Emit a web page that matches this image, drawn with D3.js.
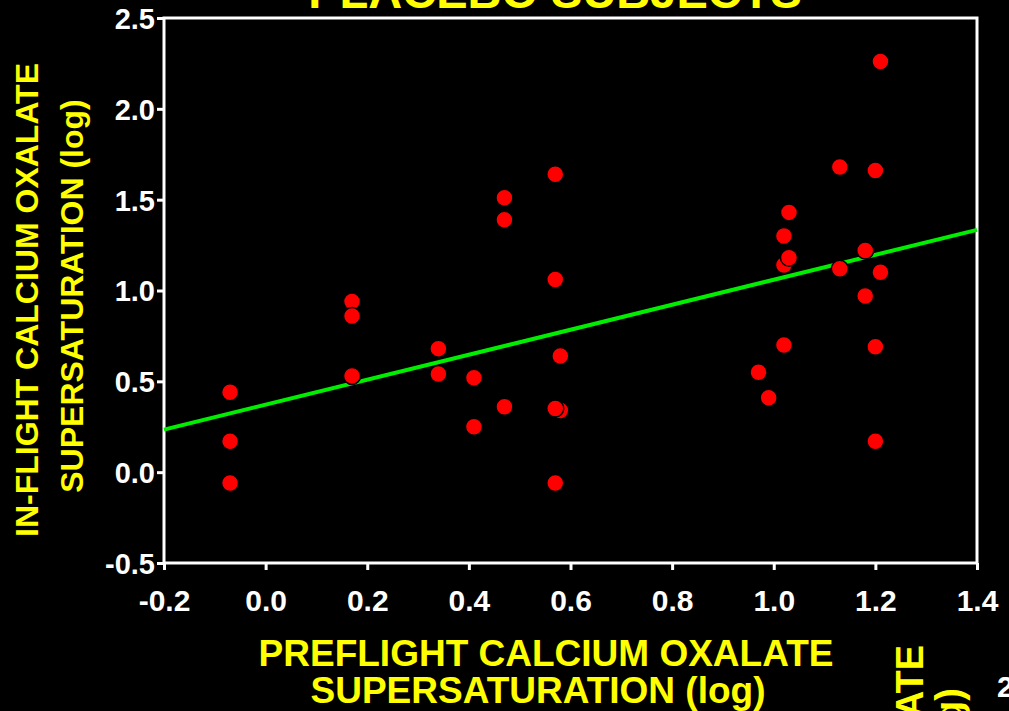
<!DOCTYPE html>
<html>
<head>
<meta charset="utf-8">
<script src="https://cdn.jsdelivr.net/npm/d3@7"></script>
<style>
  html, body { margin: 0; padding: 0; background: #000; }
  svg { display: block; }
  text { font-family: "Liberation Sans", Arial, sans-serif; font-weight: bold; }
</style>
</head>
<body>
<div id="chart"></div>
<script>
// preflight (x) vs in-flight (y) calcium oxalate supersaturation, log
var preflight = [-0.07, -0.07, -0.07, 0.17, 0.17, 0.17, 0.34, 0.34, 0.41, 0.41,
                 0.47, 0.47, 0.47, 0.57, 0.57, 0.58, 0.58, 0.57, 0.57,
                 0.97, 0.99, 1.02, 1.02, 1.02, 1.03, 1.03, 1.13, 1.13,
                 1.18, 1.18, 1.20, 1.20, 1.20, 1.21, 1.21];
var inflight  = [0.44, 0.17, -0.06, 0.94, 0.86, 0.53, 0.68, 0.54, 0.52, 0.25,
                 1.51, 1.39, 0.36, 1.64, 1.06, 0.64, 0.34, 0.35, -0.06,
                 0.55, 0.41, 0.70, 1.30, 1.14, 1.43, 1.18, 1.68, 1.12,
                 1.22, 0.97, 1.66, 0.69, 0.17, 2.26, 1.10];

// regression line end points
var fitX = [-0.2, 1.4];
var fitY = [0.234, 1.334];

var xTicks = [-0.2, 0.0, 0.2, 0.4, 0.6, 0.8, 1.0, 1.2, 1.4];
var yTicks = [-0.5, 0.0, 0.5, 1.0, 1.5, 2.0, 2.5];

var W = 1009, H = 711;
var margin = {top: 18, right: 32, bottom: 148, left: 164};
var width = W - margin.left - margin.right,
    height = H - margin.top - margin.bottom;

var svg = d3.select("#chart")
  .append("svg")
    .attr("width", W)
    .attr("height", H)
    .style("background", "#000");

var g = svg.append("g")
    .attr("transform", "translate(" + margin.left + "," + margin.top + ")");

var x = d3.scaleLinear().domain([-0.2, 1.4]).range([0, width]);
var y = d3.scaleLinear().domain([-0.5, 2.5]).range([height, 0]);

// plain hyphen for negatives, like the original slide
var fmt = function(d) { return d.toFixed(1); };

// frame
g.append("rect")
  .attr("x", 0).attr("y", 0)
  .attr("width", width).attr("height", height)
  .attr("fill", "none")
  .attr("stroke", "#fff")
  .attr("stroke-width", 3);

// axes
var xAxis = g.append("g")
  .attr("transform", "translate(0," + height + ")")
  .call(d3.axisBottom(x).tickValues(xTicks).tickFormat(fmt).tickSize(7).tickPadding(20));
var yAxis = g.append("g")
  .call(d3.axisLeft(y).tickValues(yTicks).tickFormat(fmt).tickSize(7).tickPadding(2));

[xAxis, yAxis].forEach(function(a) {
  a.select(".domain").remove();
  a.selectAll("line").attr("stroke", "#fff").attr("stroke-width", 3);
  a.selectAll("text").attr("fill", "#fff")
    .style("font-family", "'Liberation Sans', Arial, sans-serif")
    .style("font-weight", "bold");
});
xAxis.selectAll("text").style("font-size", "30px");
yAxis.selectAll("text").style("font-size", "29px").attr("dy", "0.36em");

// fit line
var line = d3.line()
  .x(function(d) { return x(d[0]); })
  .y(function(d) { return y(d[1]); });
g.append("path")
  .datum(fitX.map(function(v, i) { return [v, fitY[i]]; }))
  .attr("d", line)
  .attr("stroke", "#00ee00")
  .attr("stroke-width", 4)
  .attr("fill", "none");

// points
g.selectAll("myDots")
  .data(preflight.map(function(v, i) { return {x: v, y: inflight[i]}; }))
  .enter()
  .append("circle")
    .attr("cx", function(d) { return x(d.x); })
    .attr("cy", function(d) { return y(d.y); })
    .attr("r", 8.5)
    .attr("fill", "#ff0000")
    .attr("stroke", "#000")
    .attr("stroke-width", 1.5);

// title (cut off at top)
svg.append("text")
  .attr("x", 555).attr("y", 8)
  .attr("text-anchor", "middle")
  .attr("fill", "#ffff00")
  .style("font-size", "47px")
  .text("PLACEBO SUBJECTS");

// x axis title
var xt = svg.append("text")
  .attr("text-anchor", "middle")
  .attr("fill", "#ffff00")
  .style("font-size", "37px");
xt.append("tspan").attr("x", 546).attr("y", 666).text("PREFLIGHT CALCIUM OXALATE");
xt.append("tspan").attr("x", 538).attr("y", 703).text("SUPERSATURATION (log)");

// y axis title
var yt = svg.append("text")
  .attr("transform", "rotate(-90)")
  .attr("text-anchor", "middle")
  .attr("fill", "#ffff00")
  .style("font-size", "32px");
yt.append("tspan").attr("x", -300).attr("y", 38).text("IN-FLIGHT CALCIUM OXALATE");
yt.append("tspan").attr("x", -296).attr("y", 83).text("SUPERSATURATION (log)");

// remnants of the neighbouring chart at bottom right
var nt = svg.append("text")
  .attr("transform", "rotate(-90)")
  .attr("text-anchor", "end")
  .attr("fill", "#ffff00")
  .style("font-size", "38px");
nt.append("tspan").attr("x", -645).attr("y", 923).text("CALCIUM OXALATE");
nt.append("tspan").attr("x", -688).attr("y", 962).text("SUPERSATURATION (log)");

svg.append("text")
  .attr("x", 997).attr("y", 697)
  .attr("fill", "#fff")
  .style("font-size", "30px")
  .text("2.5");
</script>
</body>
</html>
